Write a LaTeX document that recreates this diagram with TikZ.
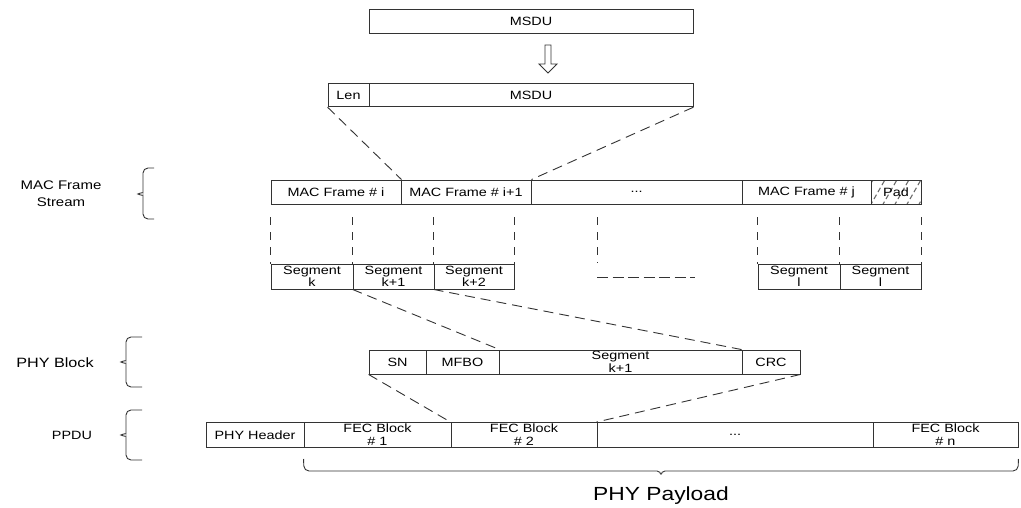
\documentclass[tikz,border=0pt]{standalone}
\usepackage{fontspec}
\setmainfont[FakeStretch=1.2]{Liberation Sans}
\definecolor{linec}{gray}{0.2}
\definecolor{hatchc}{gray}{0.42}
\tikzset{
  cell/.style={draw=linec, line width=0.9pt, inner sep=0pt, align=center,
               font=\fontsize{12}{12.5}\selectfont},
  lab/.style={inner sep=0pt, align=center, font=\fontsize{12}{16.5}\selectfont},
  link/.style={draw=linec, line width=0.9pt, dash pattern=on 10pt off 6pt},
  vlink/.style={draw=linec, line width=0.9pt, dash pattern=on 8pt off 7pt, dash phase=8pt},
  hlink/.style={draw=linec, line width=0.9pt, dash pattern=on 11pt off 4.5pt},
  brc/.style={draw=linec, line width=0.9pt, rounded corners=5pt},
  hatch/.style={draw=hatchc, line width=1.1pt, dash pattern=on 5pt off 3pt}
}
\begin{document}
\begin{tikzpicture}[x=1pt,y=-1pt]
\useasboundingbox (0,0) rectangle (1021,508);

% MSDU before and after the length field
\node[cell, minimum width=324pt, minimum height=24pt] (msdua) at (531,21) {MSDU};
\node[cell, minimum width=41pt, minimum height=23.5pt] (len) at (348.5,95) {Len};
\node[cell, minimum width=324pt, minimum height=23.5pt] (msdub) at (531,95) {MSDU};

% hollow down arrow
\draw[draw=linec, line width=0.9pt] (545,45) -- (545,64) -- (539,64) -- (548,73)
  -- (557,64) -- (551,64) -- (551,45) -- cycle;

% MAC frame stream
\begin{scope}
  \clip (871,180) rectangle (921,204);
  \foreach \x in {846,858,...,934} \draw[hatch] (\x,206) -- (\x+16,178);
\end{scope}
\node[cell, minimum width=130pt, minimum height=24pt] (maci) at (336,192) {MAC Frame \# i};
\node[cell, minimum width=130pt, minimum height=24pt] (macip) at (466,192) {MAC Frame \# i+1};
\node[cell, minimum width=211pt, minimum height=24pt] (macdots) at (636.5,192) {...};
\node[cell, minimum width=129pt, minimum height=24pt] (macj) at (806.5,192) {MAC Frame \# j};
\node[cell, minimum width=50pt, minimum height=24pt] (pad) at (896,192) {Pad};

\draw[link] (len.south west) -- (maci.north east);
\draw[link] (msdub.south east) -- (macip.north east);

% segments
\node[cell, minimum width=82pt, minimum height=25pt] (segk) at (312,276.5) {Segment\\k};
\node[cell, minimum width=81pt, minimum height=25pt] (segk1) at (393.5,276.5) {Segment\\k+1};
\node[cell, minimum width=80pt, minimum height=25pt] (segk2) at (474,276.5) {Segment\\k+2};
\node[cell, minimum width=82pt, minimum height=25pt] (segl) at (799,276.5) {Segment\\l};
\node[cell, minimum width=81pt, minimum height=25pt] (segl2) at (880.5,276.5) {Segment\\l};

\draw[vlink, shorten <=6pt] (maci.south west) -- (segk.north west);
\draw[vlink, shorten <=6pt] (segk1.north west |- maci.south) -- (segk1.north west);
\draw[vlink, shorten <=6pt] (segk2.north west |- macip.south) -- (segk2.north west);
\draw[vlink, shorten <=6pt] (segk2.north east |- macip.south) -- (segk2.north east);
\draw[vlink, shorten <=6pt] (segl.north west |- macj.south) -- (segl.north west);
\draw[vlink, shorten <=6pt] (segl2.north west |- macj.south) -- (segl2.north west);
\draw[vlink, shorten <=6pt] (pad.south east) -- (segl2.north east);

\coordinate (gapv) at (597,263);
\coordinate (gapa) at (597,277);
\coordinate (gapb) at (695,277);
\draw[vlink, shorten <=6pt] (gapv |- macdots.south) -- (gapv);
\draw[hlink] (gapa) -- (gapb);

% PHY block
\node[cell, minimum width=57pt, minimum height=24pt] (sn) at (397.5,362) {SN};
\node[cell, minimum width=73pt, minimum height=24pt] (mfbo) at (462.5,362) {MFBO};
\node[cell, minimum width=243pt, minimum height=24pt] (segp) at (620.5,362) {Segment\\k+1};
\node[cell, minimum width=58pt, minimum height=24pt] (crc) at (771,362) {CRC};

\draw[link] (segk1.south west) -- (mfbo.north east);
\draw[link] (segk2.south west) -- (crc.north west);

% PPDU
\node[cell, minimum width=98pt, minimum height=24.5pt] (phyh) at (255,434.75) {PHY Header};
\node[cell, minimum width=147pt, minimum height=24.5pt] (fec1) at (377.5,434.75) {FEC Block\\\# 1};
\node[cell, minimum width=146pt, minimum height=24.5pt] (fec2) at (524,434.75) {FEC Block\\\# 2};
\node[cell, minimum width=276pt, minimum height=24.5pt] (pdots) at (735,434.75) {...};
\node[cell, minimum width=145pt, minimum height=24.5pt] (fecn) at (945.5,434.75) {FEC Block\\\# n};

\draw[link] (sn.south west) -- (fec2.north west);
\draw[link] (crc.south east) -- (pdots.north west);

% left-hand layer labels and braces
\node[lab, font=\fontsize{12.5}{16.5}\selectfont] (lmac) at (61,193.5) {MAC Frame\\Stream};
\node[lab, font=\fontsize{13.5}{16}\selectfont] (lphy) at (55,363) {PHY Block};
\node[lab] (lppdu) at (72,435) {PPDU};

\draw[brc] (154,168) -- (143,168) -- (143,188) .. controls (143,192) and (137,194) .. (134,194)
  .. controls (137,194) and (143,196) .. (143,200) -- (143,219) -- (154,219);
\draw[brc] (142,337) -- (126,337) -- (126,356) .. controls (126,360) and (120,362) .. (117,362)
  .. controls (120,362) and (126,364) .. (126,368) -- (126,387) -- (142,387);
\draw[brc] (142,410) -- (126,410) -- (126,429) .. controls (126,433) and (120,435) .. (117,435)
  .. controls (120,435) and (126,437) .. (126,441) -- (126,460) -- (142,460);

% payload brace
\draw[brc] (fec1.south west |- 0,459) -- (304,471) -- (652,471)
  .. controls (658,471) and (660,473) .. (661,477)
  .. controls (662,473) and (664,471) .. (670,471) -- (1018,471) -- (fecn.south east |- 0,459);
\node[inner sep=0pt, font=\fontsize{19}{20}\selectfont] (payload) at (661,496) {PHY Payload};
\end{tikzpicture}
\end{document}
